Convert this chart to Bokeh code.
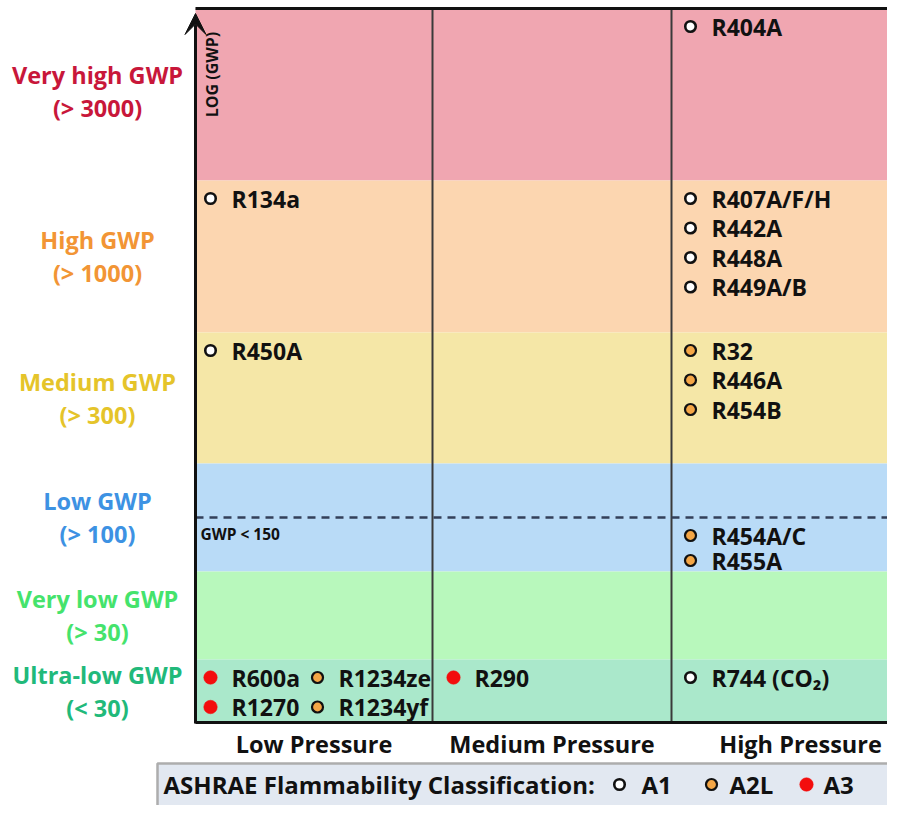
import math
from bokeh.plotting import figure
from bokeh.models import Range1d, ColumnDataSource, Arrow, VeeHead
from bokeh.core.properties import value
from bokeh.embed import file_html
from bokeh.resources import INLINE

# ---------------- data ----------------
band_names = ["Very high GWP", "High GWP", "Medium GWP", "Low GWP", "Very low GWP", "Ultra-low GWP"]
band_limits = ["(> 3000)", "(> 1000)", "(> 300)", "(> 100)", "(> 30)", "(< 30)"]
pressure_classes = ["Low Pressure", "Medium Pressure", "High Pressure"]
safety_classes = ["A1", "A2L", "A3"]
legend_title = "ASHRAE Flammability Classification:"
axis_title = "LOG (GWP)"
gwp150_label = "GWP < 150"

refrigerants = ["R404A",
                "R134a", "R407A/F/H", "R442A", "R448A", "R449A/B",
                "R450A", "R32", "R446A", "R454B",
                "R454A/C", "R455A",
                "R600a", "R1270", "R1234ze", "R1234yf", "R290", "R744 (CO\u2082)"]
ref_pressure = ["High Pressure",
                "Low Pressure", "High Pressure", "High Pressure", "High Pressure", "High Pressure",
                "Low Pressure", "High Pressure", "High Pressure", "High Pressure",
                "High Pressure", "High Pressure",
                "Low Pressure", "Low Pressure", "Low Pressure", "Low Pressure", "Medium Pressure", "High Pressure"]
ref_band = ["Very high GWP",
            "High GWP", "High GWP", "High GWP", "High GWP", "High GWP",
            "Medium GWP", "Medium GWP", "Medium GWP", "Medium GWP",
            "Low GWP", "Low GWP",
            "Ultra-low GWP", "Ultra-low GWP", "Ultra-low GWP", "Ultra-low GWP", "Ultra-low GWP", "Ultra-low GWP"]
ref_below150 = [False,
                False, False, False, False, False,
                False, False, False, False,
                True, True,
                False, False, False, False, False, False]
ref_safety = ["A1",
              "A1", "A1", "A1", "A1", "A1",
              "A1", "A2L", "A2L", "A2L",
              "A2L", "A2L",
              "A3", "A3", "A2L", "A2L", "A3", "A1"]

# ---------------- layout / style ----------------
W, H = 887, 805
FONT = value("Open Sans")
band_edges = [8, 180, 332, 463, 571, 659, 722]
dash_y = 517
col_edges = [195, 432, 671, 929]
band_fill = ["#F0A6B1", "#FCD6B0", "#F5E7A7", "#B9DBF7", "#B8F8BC", "#AAE8CB"]
label_color = ["#C8173A", "#F29535", "#E5C42A", "#3D92E3", "#45E36C", "#21B97A"]
mark_style = {
    "A1": dict(fill="#FFFFFF", line="#111111", size=10.5, lw=2.6),
    "A2L": dict(fill="#F4A646", line="#111111", size=11, lw=2.2),
    "A3": dict(fill="#F30D0D", line="#F30D0D", size=13.5, lw=0.5),
}
col_mark_dx = [15, 21, 19]
text_dx = 21
subcol_w = 107
first_dy = 18

p = figure(width=W, height=H, x_range=Range1d(0, W), y_range=Range1d(H, 0),
           output_backend="svg", toolbar_location=None, min_border=0,
           background_fill_color="white", border_fill_color="white")
p.axis.visible = False
p.grid.visible = False
p.outline_line_color = None

frame_r = col_edges[-1]

# bands
p.quad(left=[col_edges[0]] * 6, right=[frame_r] * 6,
       top=band_edges[:-1], bottom=band_edges[1:], fill_color=band_fill, line_color=None)

# vertical dividers
for xc in col_edges[1:-1]:
    p.segment(x0=[xc], y0=[band_edges[0]], x1=[xc], y1=[band_edges[-1]],
              line_color="#3A3A3A", line_width=2)

# dashed GWP<150 line
p.segment(x0=[col_edges[0]], y0=[dash_y], x1=[frame_r], y1=[dash_y],
          line_color="#33405A", line_width=2.4, line_dash="8 6")
p.text(x=[col_edges[0] + 5], y=[dash_y + 16], text=[gwp150_label], text_font=FONT,
       text_font_style="bold", text_font_size="15.5px", text_color="#111111",
       text_align="left", text_baseline="middle")

# frame lines
p.segment(x0=[col_edges[0]], y0=[band_edges[0]], x1=[frame_r], y1=[band_edges[0]],
          line_color="#111111", line_width=3)
p.segment(x0=[col_edges[0]], y0=[band_edges[-1]], x1=[frame_r], y1=[band_edges[-1]],
          line_color="#111111", line_width=3)
p.add_layout(Arrow(end=VeeHead(size=21, fill_color="#111111", line_color="#111111"),
                   x_start=col_edges[0], y_start=band_edges[-1] + 1,
                   x_end=col_edges[0], y_end=band_edges[0] + 5,
                   line_color="#111111", line_width=3))

p.text(x=[col_edges[0] + 16], y=[band_edges[0] + 66], text=[axis_title], angle=[math.pi / 2],
       text_font=FONT, text_font_style="bold", text_font_size="16px", text_color="#111111",
       text_align="center", text_baseline="middle")

# left band labels
centers = [(band_edges[i] + band_edges[i + 1]) / 2 for i in range(6)]
centers[0] -= 3
p.text(x=[97] * 6, y=[c - 16.5 for c in centers], text=band_names, text_color=label_color,
       text_font=FONT, text_font_style="bold", text_font_size="23.5px",
       text_align="center", text_baseline="middle")
p.text(x=[97] * 6, y=[c + 16.5 for c in centers], text=band_limits, text_color=label_color,
       text_font=FONT, text_font_style="bold", text_font_size="23.5px",
       text_align="center", text_baseline="middle")

# bottom pressure labels
col_centers = [(col_edges[i] + col_edges[i + 1]) / 2 for i in range(3)]
p.text(x=col_centers, y=[band_edges[-1] + 21] * 3, text=pressure_classes,
       text_font=FONT, text_font_style="bold", text_font_size="23.5px", text_color="#111111",
       text_align="center", text_baseline="middle")

# refrigerant placement
cells = {}
mx, my, tx, names, fills, lines, sizes, lws = [], [], [], [], [], [], [], []
for name, pr, bd, low150, sc in zip(refrigerants, ref_pressure, ref_band, ref_below150, ref_safety):
    ci = pressure_classes.index(pr)
    bi = band_names.index(bd)
    key = (ci, bi, low150)
    idx = cells.get(key, 0)
    cells[key] = idx + 1
    top = dash_y if low150 else band_edges[bi]
    bottom = band_edges[bi + 1]
    row_h = 25 if low150 else 29.5
    cap = max(1, int((bottom - top) / row_h))
    row, sub = idx % cap, idx // cap
    x0 = col_edges[ci] + col_mark_dx[ci] + sub * subcol_w
    y0 = top + first_dy + row * row_h
    st = mark_style[sc]
    mx.append(x0); my.append(y0); tx.append(x0 + text_dx); names.append(name)
    fills.append(st["fill"]); lines.append(st["line"]); sizes.append(st["size"]); lws.append(st["lw"])

src = ColumnDataSource(dict(x=mx, y=my, tx=tx, name=names, fill=fills, line=lines, size=sizes, lw=lws))
p.scatter(x="x", y="y", size="size", fill_color="fill", line_color="line", line_width="lw", source=src)
p.text(x="tx", y="y", text="name", source=src, text_font=FONT, text_font_style="bold",
       text_font_size="23px", text_color="#111111", text_align="left", text_baseline="middle")

# legend box
leg_y = 784
p.quad(left=[157], right=[frame_r], top=[763], bottom=[840], fill_color="#E2E8F1",
       line_color="#ADADAD", line_width=2.5)
p.text(x=[163], y=[leg_y], text=[legend_title], text_font=FONT, text_font_style="bold",
       text_font_size="24px", text_color="#111111", text_align="left", text_baseline="middle")
leg_mx = [619, 711, 806]
leg_tx = [641, 729, 823]
p.scatter(x=leg_mx, y=[leg_y] * 3, size=[mark_style[s]["size"] for s in safety_classes],
          fill_color=[mark_style[s]["fill"] for s in safety_classes],
          line_color=[mark_style[s]["line"] for s in safety_classes],
          line_width=[mark_style[s]["lw"] for s in safety_classes])
p.text(x=leg_tx, y=[leg_y] * 3, text=safety_classes, text_font=FONT, text_font_style="bold",
       text_font_size="24px", text_color="#111111", text_align="left", text_baseline="middle")

open("out.html", "w").write(file_html(p, INLINE))
